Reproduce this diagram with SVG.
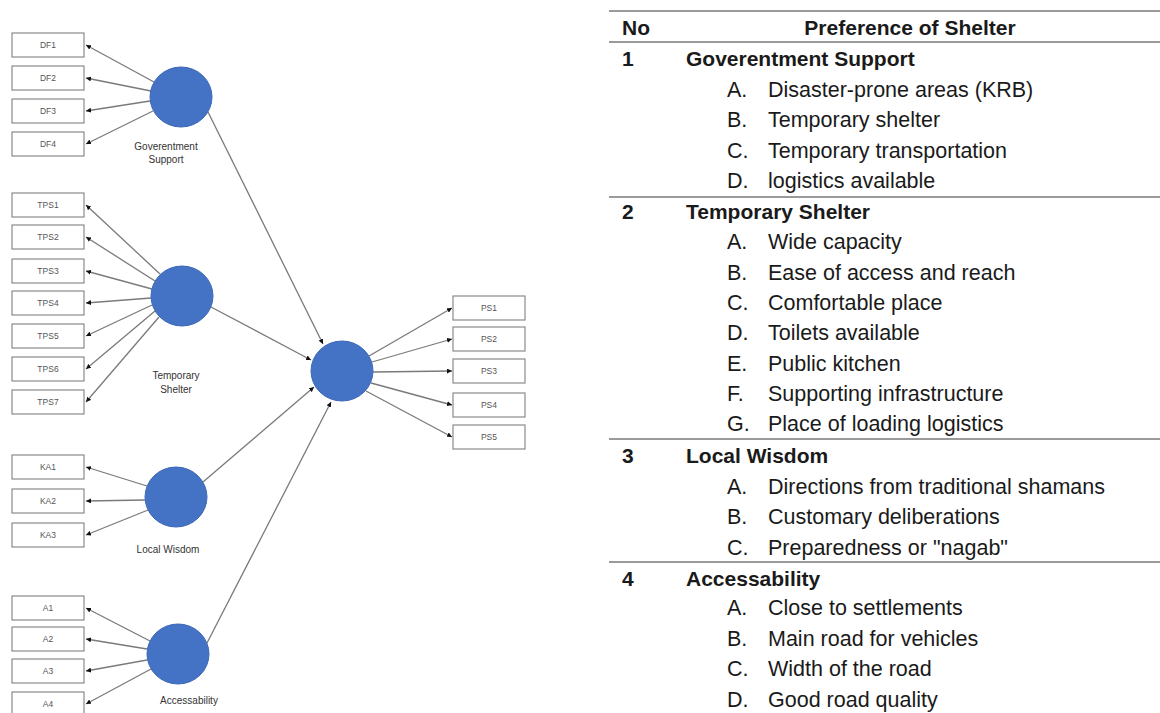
<svg xmlns="http://www.w3.org/2000/svg" width="1160" height="713" viewBox="0 0 1160 713">
  <style>
    .ind rect { fill: #ffffff; stroke: #8a8a8a; stroke-width: 1.2; }
    .ind text { font-family: "Liberation Sans", Arial, sans-serif; font-size: 8.5px; fill: #555555; text-anchor: middle; }
    .lat ellipse { fill: #4472c4; stroke: #3d68b8; stroke-width: 1; }
    .lat text { font-family: "Liberation Sans", Arial, sans-serif; font-size: 10px; fill: #333333; text-anchor: middle; }
    .conn line { stroke: #7a7a7a; stroke-width: 1.3; marker-end: url(#arrow); }
    .tbl text { font-family: "Liberation Sans", Arial, sans-serif; font-size: 21.5px; fill: #1a1a1a; }
    .tbl .b { font-weight: bold; font-size: 21px; }
    .tbl line { stroke: #9a9a9a; stroke-width: 2; }
  </style>
  <defs>
    <marker id="arrow" viewBox="0 0 6 6" refX="6" refY="3" markerWidth="5" markerHeight="5" markerUnits="userSpaceOnUse" orient="auto">
      <path d="M0,0 L6,3 L0,6 z" fill="#111111"/>
    </marker>
  </defs>
  <rect width="1160" height="713" fill="#ffffff"/>

  <!-- connectors -->
  <g id="connectors" class="conn">
    <!-- Goverentment Support indicators -->
    <line x1="154" y1="82" x2="86" y2="45"/>
    <line x1="151" y1="91" x2="86" y2="78"/>
    <line x1="150" y1="101" x2="86" y2="111"/>
    <line x1="153" y1="111" x2="86" y2="144"/>
    <!-- Temporary Shelter indicators -->
    <line x1="160" y1="274" x2="86" y2="205"/>
    <line x1="155" y1="281" x2="86" y2="237"/>
    <line x1="152" y1="289" x2="86" y2="271"/>
    <line x1="151" y1="298" x2="86" y2="303"/>
    <line x1="152" y1="305" x2="86" y2="336"/>
    <line x1="155" y1="311" x2="86" y2="369"/>
    <line x1="159" y1="317" x2="86" y2="402"/>
    <!-- Local Wisdom indicators -->
    <line x1="147" y1="486" x2="86" y2="467"/>
    <line x1="145" y1="500" x2="86" y2="501"/>
    <line x1="148" y1="510" x2="86" y2="535"/>
    <!-- Accessability indicators -->
    <line x1="150" y1="641" x2="86" y2="608"/>
    <line x1="147" y1="649" x2="86" y2="639"/>
    <line x1="147" y1="660" x2="86" y2="671"/>
    <line x1="151" y1="669" x2="86" y2="704"/>
    <!-- paths into the central construct -->
    <line x1="208" y1="112" x2="323" y2="344"/>
    <line x1="211" y1="307" x2="311" y2="360"/>
    <line x1="203" y1="482" x2="314" y2="387"/>
    <line x1="207" y1="643" x2="331" y2="402"/>
    <!-- central construct to PS indicators -->
    <line x1="369" y1="356" x2="452" y2="308"/>
    <line x1="372" y1="362" x2="452" y2="339"/>
    <line x1="373" y1="372" x2="452" y2="371"/>
    <line x1="371" y1="383" x2="452" y2="405"/>
    <line x1="366" y1="391" x2="452" y2="437"/>
  </g>

  <!-- latent constructs -->
  <g id="gov-support" class="lat">
    <ellipse cx="181" cy="97" rx="31" ry="30"/>
    <text x="166" y="150">Goverentment</text>
    <text x="166" y="163">Support</text>
  </g>
  <g id="temp-shelter" class="lat">
    <ellipse cx="182" cy="296" rx="31" ry="30"/>
    <text x="176" y="379">Temporary</text>
    <text x="176" y="393">Shelter</text>
  </g>
  <g id="local-wisdom" class="lat">
    <ellipse cx="176" cy="497" rx="31" ry="30"/>
    <text x="168" y="553">Local Wisdom</text>
  </g>
  <g id="accessability" class="lat">
    <ellipse cx="178" cy="654" rx="31" ry="30"/>
    <text x="189" y="704">Accessability</text>
  </g>
  <g id="preference" class="lat">
    <ellipse cx="342" cy="371" rx="31" ry="30"/>
  </g>

  <!-- indicator boxes -->
  <g id="DF1" class="ind"><rect x="12" y="33" width="72" height="24"/><text x="48" y="48">DF1</text></g>
  <g id="DF2" class="ind"><rect x="12" y="66" width="72" height="24"/><text x="48" y="81">DF2</text></g>
  <g id="DF3" class="ind"><rect x="12" y="99" width="72" height="24"/><text x="48" y="114">DF3</text></g>
  <g id="DF4" class="ind"><rect x="12" y="132" width="72" height="24"/><text x="48" y="147">DF4</text></g>

  <g id="TPS1" class="ind"><rect x="12" y="193" width="72" height="24"/><text x="48" y="208">TPS1</text></g>
  <g id="TPS2" class="ind"><rect x="12" y="225" width="72" height="24"/><text x="48" y="240">TPS2</text></g>
  <g id="TPS3" class="ind"><rect x="12" y="259" width="72" height="24"/><text x="48" y="274">TPS3</text></g>
  <g id="TPS4" class="ind"><rect x="12" y="291" width="72" height="24"/><text x="48" y="306">TPS4</text></g>
  <g id="TPS5" class="ind"><rect x="12" y="324" width="72" height="24"/><text x="48" y="339">TPS5</text></g>
  <g id="TPS6" class="ind"><rect x="12" y="357" width="72" height="24"/><text x="48" y="372">TPS6</text></g>
  <g id="TPS7" class="ind"><rect x="12" y="390" width="72" height="24"/><text x="48" y="405">TPS7</text></g>

  <g id="KA1" class="ind"><rect x="12" y="455" width="72" height="24"/><text x="48" y="470">KA1</text></g>
  <g id="KA2" class="ind"><rect x="12" y="489" width="72" height="24"/><text x="48" y="504">KA2</text></g>
  <g id="KA3" class="ind"><rect x="12" y="523" width="72" height="24"/><text x="48" y="538">KA3</text></g>

  <g id="A1" class="ind"><rect x="12" y="596" width="72" height="24"/><text x="48" y="611">A1</text></g>
  <g id="A2" class="ind"><rect x="12" y="627" width="72" height="24"/><text x="48" y="642">A2</text></g>
  <g id="A3" class="ind"><rect x="12" y="659" width="72" height="24"/><text x="48" y="674">A3</text></g>
  <g id="A4" class="ind"><rect x="12" y="692" width="72" height="24"/><text x="48" y="707">A4</text></g>

  <g id="PS1" class="ind"><rect x="453" y="296" width="72" height="24"/><text x="489" y="311">PS1</text></g>
  <g id="PS2" class="ind"><rect x="453" y="327" width="72" height="24"/><text x="489" y="342">PS2</text></g>
  <g id="PS3" class="ind"><rect x="453" y="359" width="72" height="24"/><text x="489" y="374">PS3</text></g>
  <g id="PS4" class="ind"><rect x="453" y="393" width="72" height="24"/><text x="489" y="408">PS4</text></g>
  <g id="PS5" class="ind"><rect x="453" y="425" width="72" height="24"/><text x="489" y="440">PS5</text></g>

  <!-- preference table -->
  <g id="table" class="tbl">
    <line x1="609" y1="11" x2="1160" y2="11"/>
    <text class="b" x="622" y="35">No</text>
    <text class="b" x="910" y="35" text-anchor="middle">Preference of Shelter</text>
    <line x1="609" y1="42" x2="1160" y2="42"/>

    <text class="b" x="622" y="66">1</text>
    <text class="b" x="686" y="66">Goverentment Support</text>
    <text x="727" y="97">A.</text><text x="768" y="97">Disaster-prone areas (KRB)</text>
    <text x="727" y="127">B.</text><text x="768" y="127">Temporary shelter</text>
    <text x="727" y="158">C.</text><text x="768" y="158">Temporary transportation</text>
    <text x="727" y="188">D.</text><text x="768" y="188">logistics available</text>
    <line x1="609" y1="197" x2="1160" y2="197"/>

    <text class="b" x="622" y="219">2</text>
    <text class="b" x="686" y="219">Temporary Shelter</text>
    <text x="727" y="249">A.</text><text x="768" y="249">Wide capacity</text>
    <text x="727" y="280">B.</text><text x="768" y="280">Ease of access and reach</text>
    <text x="727" y="310">C.</text><text x="768" y="310">Comfortable place</text>
    <text x="727" y="340">D.</text><text x="768" y="340">Toilets available</text>
    <text x="727" y="371">E.</text><text x="768" y="371">Public kitchen</text>
    <text x="727" y="401">F.</text><text x="768" y="401">Supporting infrastructure</text>
    <text x="727" y="431">G.</text><text x="768" y="431">Place of loading logistics</text>
    <line x1="609" y1="439" x2="1160" y2="439"/>

    <text class="b" x="622" y="463">3</text>
    <text class="b" x="686" y="463">Local Wisdom</text>
    <text x="727" y="494">A.</text><text x="768" y="494">Directions from traditional shamans</text>
    <text x="727" y="524">B.</text><text x="768" y="524">Customary deliberations</text>
    <text x="727" y="555">C.</text><text x="768" y="555">Preparedness or "nagab"</text>
    <line x1="609" y1="562" x2="1160" y2="562"/>

    <text class="b" x="622" y="586">4</text>
    <text class="b" x="686" y="586">Accessability</text>
    <text x="727" y="615">A.</text><text x="768" y="615">Close to settlements</text>
    <text x="727" y="646">B.</text><text x="768" y="646">Main road for vehicles</text>
    <text x="727" y="676">C.</text><text x="768" y="676">Width of the road</text>
    <text x="727" y="707">D.</text><text x="768" y="707">Good road quality</text>
  </g>
</svg>
